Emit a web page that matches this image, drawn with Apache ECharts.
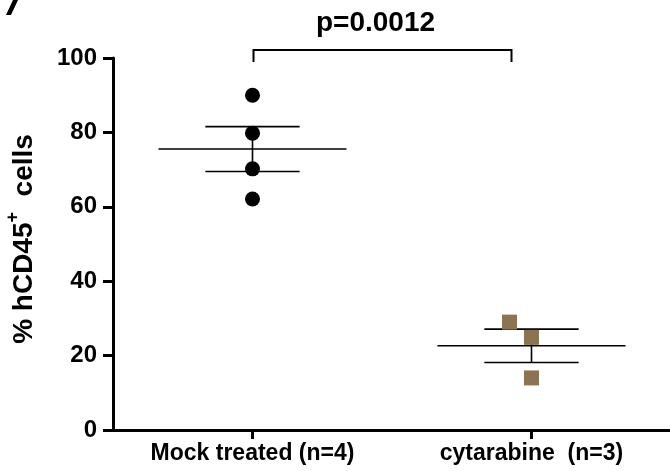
<!DOCTYPE html>
<html>
<head>
<meta charset="utf-8">
<script src="https://cdn.jsdelivr.net/npm/echarts@6/dist/echarts.min.js"></script>
<style>
html,body{margin:0;padding:0;background:#fff;}
#chart{width:670px;height:471px;}
</style>
</head>
<body>
<div id="chart"></div>
<script>
// ---- data ----
const categories = ["Mock treated (n=4)", "cytarabine  (n=3)"];
const mockValues = [90.0, 79.8, 70.2, 62.1];
const cytarabineValues = [29.0, 24.9, 14.0];
const yTicks = [0, 20, 40, 60, 80, 100];
const pValueText = "p=0.0012";

// ---- helpers ----
function mean(a){ return a.reduce((s,v)=>s+v,0)/a.length; }
function sem(a){
  const m = mean(a);
  const sd = Math.sqrt(a.reduce((s,v)=>s+(v-m)*(v-m),0)/(a.length-1));
  return sd/Math.sqrt(a.length);
}
const groups = [mockValues, cytarabineValues];
const statsData = groups.map((g,i)=>[i, mean(g), sem(g)]);

// jitter (style only) for overlapping points of the cytarabine group
const cytJitter = [-22, 0, 0];

const FONT = '"Liberation Sans", Arial, Helvetica, sans-serif';
const chart = echarts.init(document.getElementById('chart'), null, {renderer:'canvas'});

const option = {
  backgroundColor: '#ffffff',
  animation: false,
  grid: { left: 113, right: -1, top: 58, bottom: 41, containLabel: false, outerBoundsMode: 'none' },
  xAxis: {
    type: 'category',
    data: categories,
    boundaryGap: true,
    axisLine: { show: true, lineStyle: { color: '#000', width: 3 } },
    axisTick: { show: true, alignWithLabel: true, length: 9, lineStyle: { color: '#000', width: 3 } },
    axisLabel: { color: '#000', fontFamily: FONT, fontWeight: 'bold', fontSize: 23, margin: 12 },
    splitLine: { show: false }
  },
  yAxis: {
    type: 'value',
    min: yTicks[0],
    max: yTicks[yTicks.length-1],
    interval: yTicks[1]-yTicks[0],
    name: '{m|% hCD45}{s|+}{m|  cells}',
    nameLocation: 'middle',
    nameGap: 69,
    nameTextStyle: {
      padding: [0, 0, 0, 10],
      rich: {
        m: { fontFamily: FONT, fontWeight: 'bold', fontSize: 28, color: '#000', lineHeight: 40, verticalAlign: 'middle' },
        s: { fontFamily: FONT, fontWeight: 'bold', fontSize: 18, color: '#000', lineHeight: 18, verticalAlign: 'top' }
      }
    },
    axisLine: { show: true, lineStyle: { color: '#000', width: 3 } },
    axisTick: { show: true, length: 10, lineStyle: { color: '#000', width: 3 } },
    axisLabel: { color: '#000', fontFamily: FONT, fontWeight: 'bold', fontSize: 24, margin: 16 },
    splitLine: { show: false }
  },
  graphic: [
    { type: 'polygon', shape: { points: [[13,0],[18,0],[11,15],[6,15]] }, style: { fill: '#000' } }
  ],
  series: [
    {
      type: 'custom',
      z: 1,
      clip: false,
      data: statsData,
      renderItem: function(params, api){
        const x = api.value(0), m = api.value(1), s = api.value(2);
        const band = api.size([1,0])[0];
        const c = api.coord([x, m]);
        const t = api.coord([x, m+s]);
        const b = api.coord([x, m-s]);
        const hm = band*0.337, hs = band*0.169;
        const st = { stroke: '#000', lineWidth: 1.6 };
        return { type: 'group', children: [
          { type: 'line', shape: { x1: c[0]-hm, y1: c[1], x2: c[0]+hm, y2: c[1] }, style: st },
          { type: 'line', shape: { x1: c[0]-hs, y1: t[1], x2: c[0]+hs, y2: t[1] }, style: st },
          { type: 'line', shape: { x1: c[0]-hs, y1: b[1], x2: c[0]+hs, y2: b[1] }, style: st },
          { type: 'line', shape: { x1: c[0], y1: t[1], x2: c[0], y2: b[1] }, style: st }
        ]};
      }
    },
    {
      type: 'scatter',
      z: 3,
      symbol: 'circle',
      symbolSize: 15,
      itemStyle: { color: '#000', opacity: 1 },
      data: mockValues.map(v => [0, v])
    },
    {
      type: 'scatter',
      z: 3,
      symbol: 'rect',
      symbolSize: 15,
      itemStyle: { color: '#8c7351', opacity: 1 },
      data: cytarabineValues.map((v,i) => ({ value: [1, v], symbolOffset: [cytJitter[i], 0] }))
    },
    {
      type: 'custom',
      z: 4,
      clip: false,
      data: [[0, 1]],
      renderItem: function(params, api){
        const a = api.coord([api.value(0), 100]);
        const b = api.coord([api.value(1), 100]);
        const yTop = a[1] - 8, yLeg = a[1] + 4;
        const x1 = a[0] + 1, x2 = b[0] - 20;
        const st = { stroke: '#000', lineWidth: 2, fill: null };
        return { type: 'group', children: [
          { type: 'polyline', shape: { points: [[x1,yLeg],[x1,yTop],[x2,yTop],[x2,yLeg]] }, style: st },
          { type: 'text', x: (x1+x2)/2 - 7, y: yTop - 27,
            style: { text: pValueText, fill: '#000', font: 'bold 28px ' + FONT, textAlign: 'center', textVerticalAlign: 'middle' } }
        ]};
      }
    }
  ]
};
chart.setOption(option);
</script>
</body>
</html>
